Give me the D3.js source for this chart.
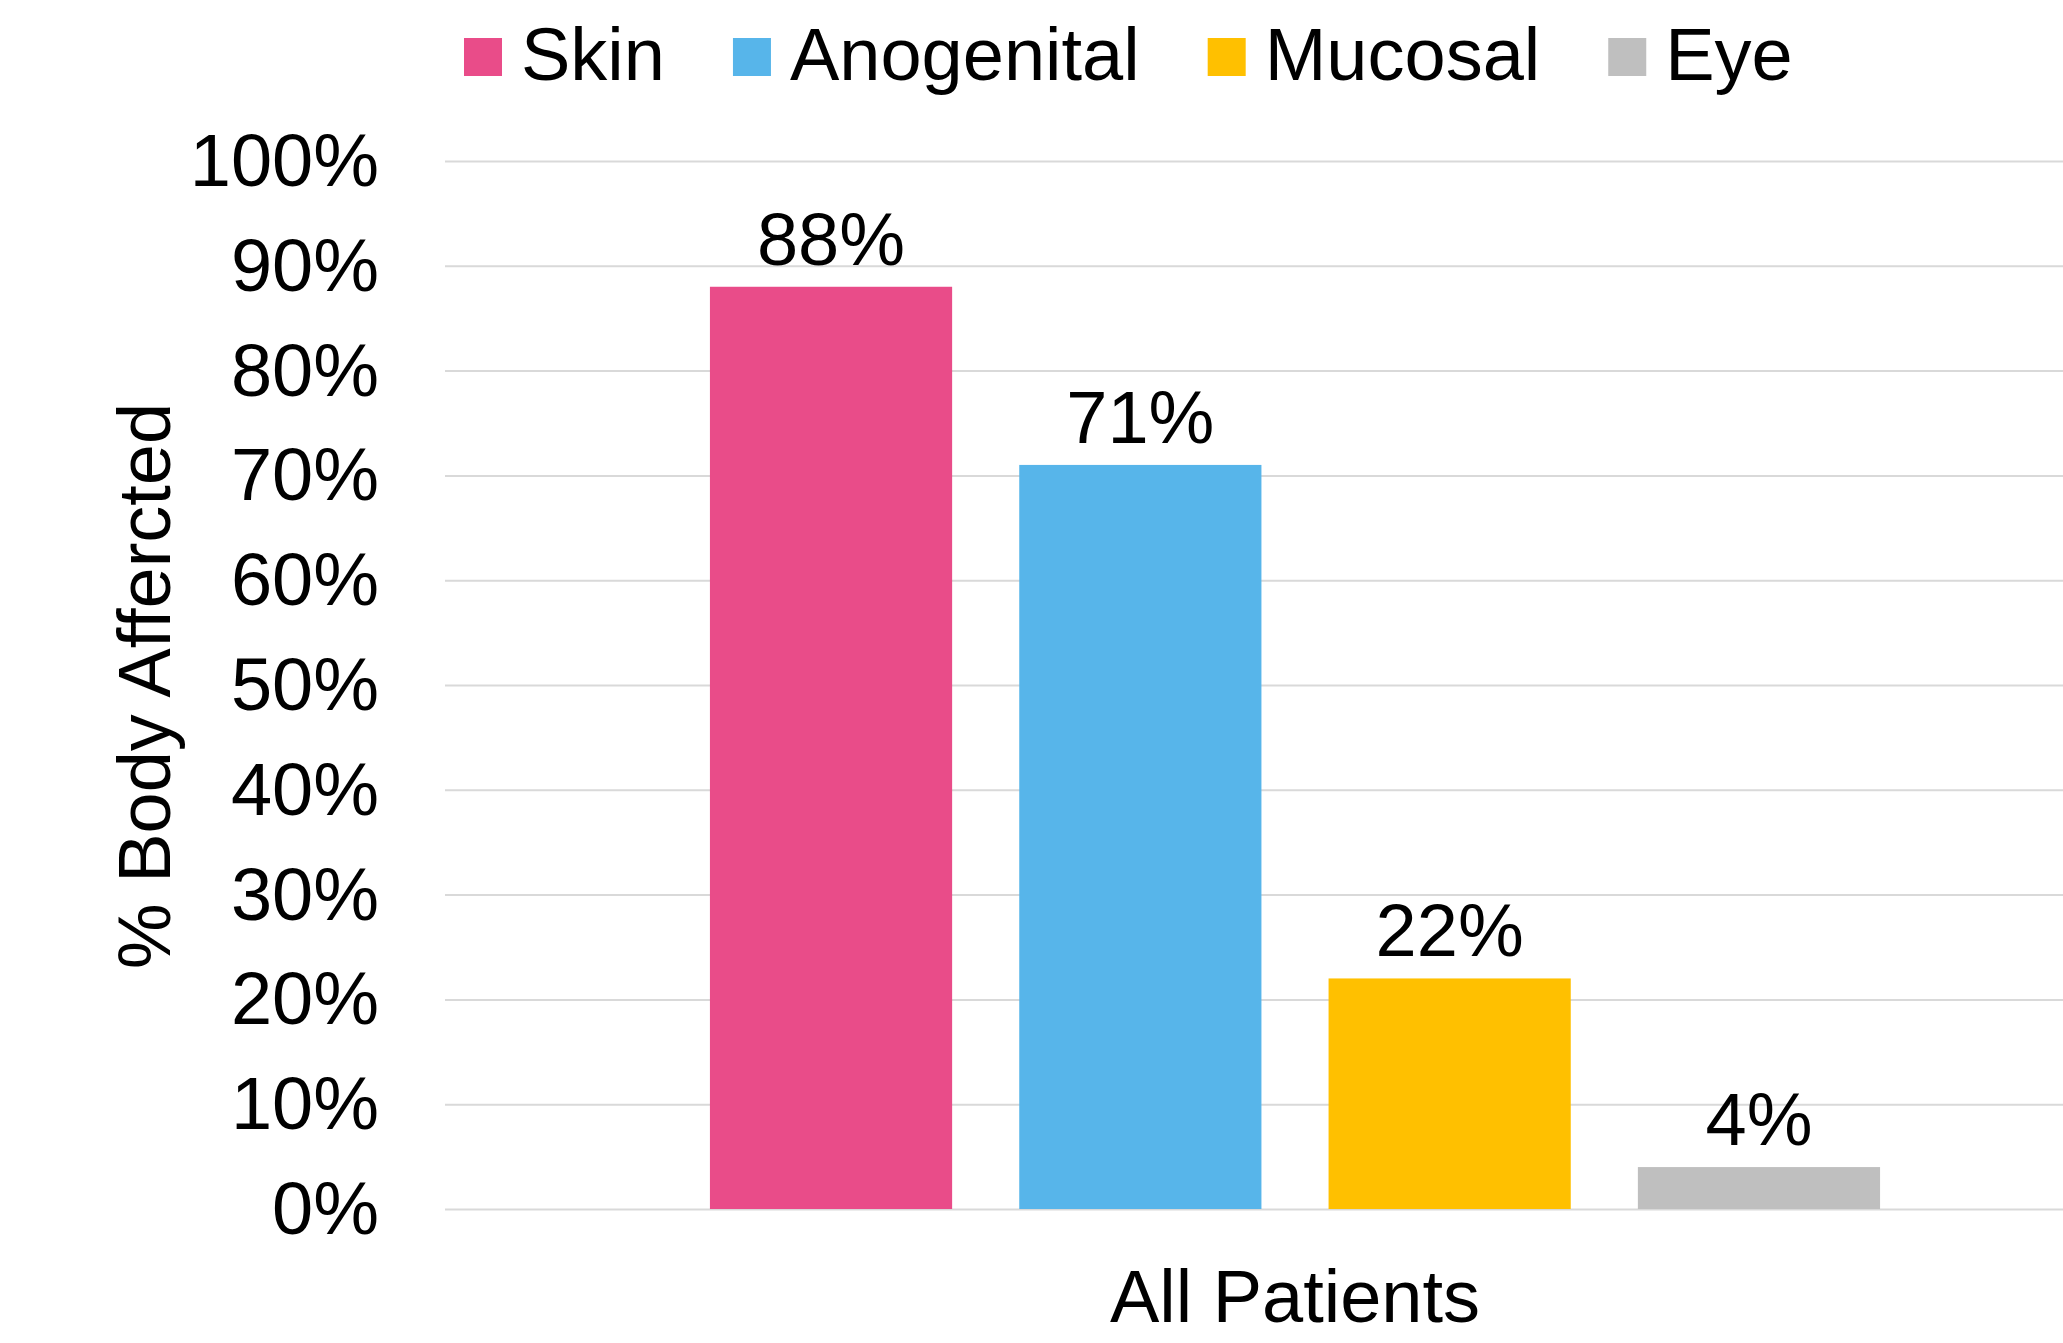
<!DOCTYPE html>
<html>
<head>
<meta charset="utf-8">
<script src="https://cdn.jsdelivr.net/npm/d3@7"></script>
<style>
  html, body { margin: 0; padding: 0; background: #ffffff; }
  svg { display: block; font-family: "Liberation Sans", Arial, sans-serif; }
</style>
</head>
<body>
<svg id="chart" width="2063" height="1343"></svg>
<script>
// Share of patients with each body region affected
const categories = ["All Patients"];
const seriesNames = ["Skin", "Anogenital", "Mucosal", "Eye"];
const seriesValues = [88, 71, 22, 4];
const seriesColors = ["#E94C89", "#57B5EA", "#FFC000", "#BFBFBF"];
const yTicks = [0, 10, 20, 30, 40, 50, 60, 70, 80, 90, 100];
const yTitle = "% Body Affercted";

const W = 2063, H = 1343;
const plot = { left: 445, right: 2145, top: 161, bottom: 1209 };
const fontSize = 74;

const svg = d3.select("#chart");
svg.append("rect").attr("width", W).attr("height", H).attr("fill", "#ffffff");

const y = d3.scaleLinear().domain([0, 100]).range([plot.bottom, plot.top]);

const x0 = d3.scaleBand()
  .domain(categories)
  .range([plot.left, plot.right])
  .paddingInner(0)
  .paddingOuter(0.187);

const x1 = d3.scaleBand()
  .domain(seriesNames)
  .range([0, x0.bandwidth()])
  .paddingInner(0.217)
  .paddingOuter(0.1085);

// Horizontal gridlines
const grid = svg.append("g")
  .attr("transform", `translate(${plot.left},0)`)
  .call(d3.axisLeft(y).tickValues(yTicks).tickSize(-(W - plot.left)).tickFormat(""));
grid.select(".domain").remove();
grid.selectAll(".tick line").attr("stroke", "#D9D9D9").attr("stroke-width", 2);

// Y-axis tick labels
const yAxis = svg.append("g")
  .attr("transform", `translate(${plot.left},0)`)
  .call(d3.axisLeft(y).tickValues(yTicks).tickSize(0).tickPadding(66).tickFormat(d => d + "%"));
yAxis.select(".domain").remove();
yAxis.selectAll(".tick text")
  .attr("font-family", "'Liberation Sans', Arial, sans-serif")
  .attr("font-size", fontSize)
  .attr("fill", "#000000")
  .attr("dy", "0.33em");

// Bars
const rows = seriesNames.map((name, i) => ({ name, value: seriesValues[i], color: seriesColors[i] }));
const group = svg.append("g")
  .selectAll("g")
  .data(categories)
  .join("g")
  .attr("transform", d => `translate(${x0(d)},0)`);

group.selectAll("rect")
  .data(rows)
  .join("rect")
  .attr("x", d => x1(d.name))
  .attr("y", d => y(d.value))
  .attr("width", x1.bandwidth())
  .attr("height", d => y(0) - y(d.value))
  .attr("fill", d => d.color);

// Value labels
group.selectAll("text.value")
  .data(rows)
  .join("text")
  .attr("class", "value")
  .attr("x", d => x1(d.name) + x1.bandwidth() / 2)
  .attr("y", d => y(d.value) - 22)
  .attr("text-anchor", "middle")
  .attr("font-size", fontSize)
  .attr("fill", "#000000")
  .text(d => d.value + "%");

// Category label under the bars
const xAxis = svg.append("g")
  .attr("transform", `translate(0,${plot.bottom})`)
  .call(d3.axisBottom(x0).tickSize(0).tickPadding(0));
xAxis.select(".domain").remove();
xAxis.selectAll(".tick text")
  .attr("font-family", "'Liberation Sans', Arial, sans-serif")
  .attr("font-size", fontSize)
  .attr("fill", "#000000")
  .attr("dy", 0)
  .attr("y", 113);

// Y-axis title
svg.append("text")
  .attr("transform", `translate(170,686) rotate(-90)`)
  .attr("text-anchor", "middle")
  .attr("font-size", fontSize)
  .attr("fill", "#000000")
  .text(yTitle);

// Legend
const legend = svg.append("g");
let lx = 464;
rows.forEach(d => {
  const item = legend.append("g").attr("transform", `translate(${lx},0)`);
  item.append("rect").attr("x", 0).attr("y", 38).attr("width", 38).attr("height", 38).attr("fill", d.color);
  const t = item.append("text")
    .attr("x", 57)
    .attr("y", 80)
    .attr("font-size", fontSize)
    .attr("fill", "#000000")
    .text(d.name);
  lx += 57 + t.node().getComputedTextLength() + 68;
});
</script>
</body>
</html>
